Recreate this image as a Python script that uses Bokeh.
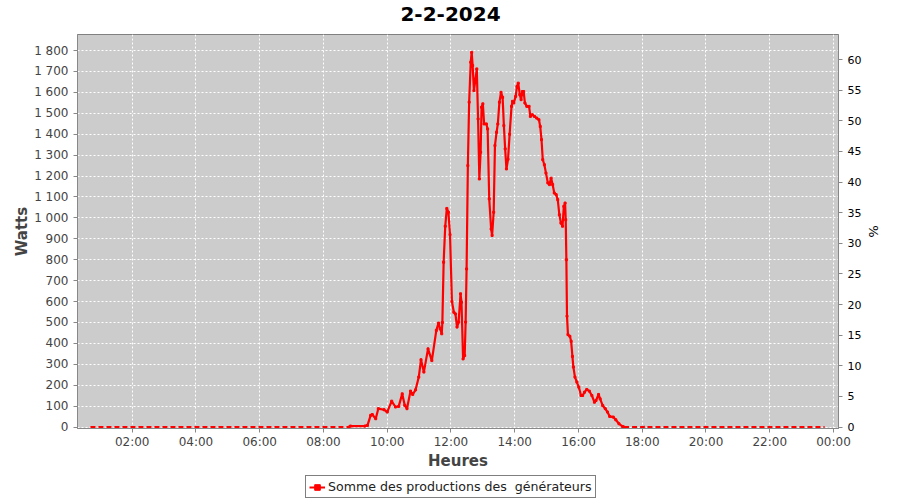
from bokeh.plotting import figure
from bokeh.layouts import column
from bokeh.models import (Range1d, LinearAxis, FixedTicker, SingleIntervalTicker,
                          CustomJSTickFormatter, Legend, LegendItem, Label)
from bokeh.embed import file_html
from bokeh.resources import INLINE

title_text = "2-2-2024"
series_name = "Somme des productions des  générateurs"
x_axis_label = "Heures"
y_axis_label = "Watts"
pct_axis_label = "%"

x_tick_hours = [2, 4, 6, 8, 10, 12, 14, 16, 18, 20, 22, 24]
x_tick_labels = ["02:00", "04:00", "06:00", "08:00", "10:00", "12:00",
                 "14:00", "16:00", "18:00", "20:00", "22:00", "00:00"]

# production during the day (hours, watts)
day_hours = [8.80, 8.85, 9.30, 9.38, 9.48, 9.53, 9.64, 9.72, 9.90, 10.00, 10.14,
             10.26, 10.36, 10.47, 10.55, 10.62, 10.73, 10.80, 10.89, 10.99,
             11.06, 11.15, 11.28, 11.40, 11.54, 11.61, 11.66, 11.71, 11.73,
             11.77, 11.82, 11.87, 11.92, 11.97, 12.03, 12.09, 12.14, 12.19,
             12.24, 12.30, 12.33, 12.38, 12.43, 12.46, 12.49, 12.53, 12.57,
             12.62, 12.65, 12.68, 12.72, 12.77, 12.81, 12.85, 12.89, 12.93,
             12.96, 13.00, 13.04, 13.11, 13.15, 13.20, 13.26, 13.29, 13.34,
             13.38, 13.43, 13.47, 13.52, 13.57, 13.62, 13.66, 13.70, 13.74,
             13.79, 13.84, 13.90, 13.93, 13.97, 14.03, 14.07, 14.11, 14.16,
             14.20, 14.24, 14.28, 14.32, 14.38, 14.45, 14.49, 14.55, 14.62,
             14.69, 14.76, 14.80, 14.84, 14.88, 14.93, 14.98, 15.04, 15.09,
             15.14, 15.19, 15.24, 15.30, 15.35, 15.40, 15.45, 15.50, 15.54,
             15.58, 15.60, 15.62, 15.64, 15.67, 15.73, 15.77, 15.81, 15.84,
             15.89, 15.95, 16.01, 16.08, 16.13, 16.19, 16.26, 16.34, 16.42,
             16.50, 16.55, 16.63, 16.68, 16.76, 16.84, 16.91, 16.98, 17.09,
             17.17, 17.27, 17.38, 17.43]
day_watts = [0, 5, 5, 8, 56, 60, 40, 88, 83, 72, 124,
             96, 99, 159, 104, 88, 172, 156, 178, 239,
             322, 263, 374, 318, 462, 497, 470, 446, 500,
             788, 960, 1045, 1027, 920, 600, 549, 541, 478,
             502, 637, 597, 326, 342, 502, 756, 1250, 1553,
             1744, 1791, 1728, 1608, 1664, 1712, 1473, 1186, 1314,
             1529, 1545, 1449, 1449, 1425, 1091, 947, 916, 1027,
             1346, 1409, 1449, 1553, 1600, 1576, 1441, 1330, 1234,
             1280, 1400, 1533, 1557, 1549, 1581, 1628, 1644, 1589,
             1565, 1604, 1604, 1549, 1533, 1533, 1485, 1493, 1485,
             1477, 1469, 1437, 1374, 1278, 1254, 1214, 1167, 1159,
             1190, 1159, 1119, 1111, 1087, 1015, 975, 960, 1055,
             1071, 991, 800, 530, 442, 434, 410, 338, 287,
             239, 215, 191, 151, 151, 167, 180, 172, 151,
             119, 127, 156, 135, 103, 88, 72, 51, 48,
             35, 16, 3, 0]

# night readings (sparse)
night_am_hours = [0.69, 8.80]
night_am_watts = [0, 0]
night_pm_hours = [17.43, 18.05, 18.10, 18.15, 23.72]
night_pm_watts = [0, 0, 5, 0, 0]

pct_full_scale_watts = 2928.0

W_MIN, W_MAX = -6.7, 1876.5
H_MIN, H_MAX = 0.284, 24.157

GREY = "#444444"
AXIS = "#888888"
FONT = "DejaVu Sans"


def strip(height):
    f = figure(width=900, height=height, output_backend="svg", toolbar_location=None,
               x_range=Range1d(100, 101), y_range=Range1d(100, 101),
               min_border=0, outline_line_color=None,
               background_fill_color="white", border_fill_color="white")
    f.xaxis.visible = False
    f.yaxis.visible = False
    f.xgrid.visible = False
    f.ygrid.visible = False
    return f


# title strip above the chart
tf = strip(30)
tf.add_layout(Label(x=373, y=16.5, x_units="screen", y_units="screen",
                    text=title_text, text_align="center", text_baseline="middle",
                    text_font=FONT, text_font_size="20px", text_font_style="bold",
                    text_color="black"))

p = figure(width=900, height=442, output_backend="svg", toolbar_location=None,
           x_range=Range1d(H_MIN, H_MAX), y_range=Range1d(W_MIN, W_MAX),
           min_border_left=77, min_border_right=62, min_border_top=4,
           min_border_bottom=44,
           background_fill_color="#cccccc", border_fill_color="white",
           outline_line_color="#808080")

p.extra_y_ranges = {"pct": Range1d(W_MIN * 100 / pct_full_scale_watts,
                                   W_MAX * 100 / pct_full_scale_watts)}

# grids
p.xgrid.ticker = FixedTicker(ticks=x_tick_hours)
p.ygrid.ticker = SingleIntervalTicker(interval=100, num_minor_ticks=0)
for g in (p.xgrid, p.ygrid):
    g.grid_line_color = "white"
    g.grid_line_dash = "2 2"
    g.grid_line_width = 1

# x axis
xa = p.xaxis[0]
xa.ticker = FixedTicker(ticks=x_tick_hours)
xa.major_label_overrides = {h: lab for h, lab in zip(x_tick_hours, x_tick_labels)}
xa.axis_label = x_axis_label

# left axis
ya = p.yaxis[0]
ya.ticker = SingleIntervalTicker(interval=100, num_minor_ticks=0)
ya.formatter = CustomJSTickFormatter(code="""
const s = Math.round(tick).toString();
return s.replace(/\\B(?=(\\d{3})+(?!\\d))/g, ' ');
""")
ya.axis_label = y_axis_label

for ax in (xa, ya):
    ax.axis_line_color = AXIS
    ax.major_tick_line_color = AXIS
    ax.major_tick_out = 4
    ax.major_tick_in = 0
    ax.minor_tick_out = 0
    ax.minor_tick_in = 0
    ax.major_label_text_font = FONT
    ax.major_label_text_font_size = "12px"
    ax.major_label_text_color = GREY
    ax.axis_label_text_font = FONT
    ax.axis_label_text_font_size = "15px"
    ax.axis_label_text_font_style = "bold"
    ax.axis_label_text_color = GREY
ya.major_label_standoff = 5
ya.axis_label_standoff = 0
xa.major_label_standoff = 2
xa.axis_label_standoff = 0

# right axis (%)
ra = LinearAxis(y_range_name="pct",
                ticker=SingleIntervalTicker(interval=5, num_minor_ticks=0),
                axis_label=pct_axis_label)
ra.axis_line_color = AXIS
ra.major_tick_line_color = AXIS
ra.major_tick_out = 4
ra.major_tick_in = 0
ra.minor_tick_out = 0
ra.minor_tick_in = 0
ra.major_label_text_font = FONT
ra.major_label_text_font_size = "11px"
ra.major_label_text_color = "black"
ra.major_label_standoff = 5
ra.axis_label_text_font = FONT
ra.axis_label_text_font_size = "13px"
ra.axis_label_text_font_style = "normal"
ra.axis_label_text_color = "black"
ra.axis_label_standoff = 2
p.add_layout(ra, "right")

# data
p.line(night_am_hours, night_am_watts, color="red", line_width=2, line_dash="5 3")
p.line(night_pm_hours, night_pm_watts, color="red", line_width=2, line_dash="5 3")
p.line(day_hours, day_watts, color="red", line_width=2.2)
p.scatter(day_hours, day_watts, color="red", size=2, marker="square")

# legend strip below the chart (its renderers hold the same series, out of view)
lf = strip(28)
leg_line = lf.line(day_hours, day_watts, color="red", line_width=2)
leg_pts = lf.scatter(day_hours, day_watts, color="red", size=2.5, marker="square")
legend = Legend(items=[LegendItem(label=series_name, renderers=[leg_line, leg_pts])],
                location=(228, 2), orientation="horizontal",
                border_line_color="black", border_line_width=1,
                background_fill_color="white", background_fill_alpha=1,
                label_text_font=FONT, label_text_font_size="12.6px",
                label_text_color="#222222",
                glyph_width=16, glyph_height=14, padding=3, spacing=0,
                margin=0, label_standoff=3)
lf.add_layout(legend)

layout = column(tf, p, lf, spacing=0)
open("out.html", "w").write(file_html(layout, INLINE))
